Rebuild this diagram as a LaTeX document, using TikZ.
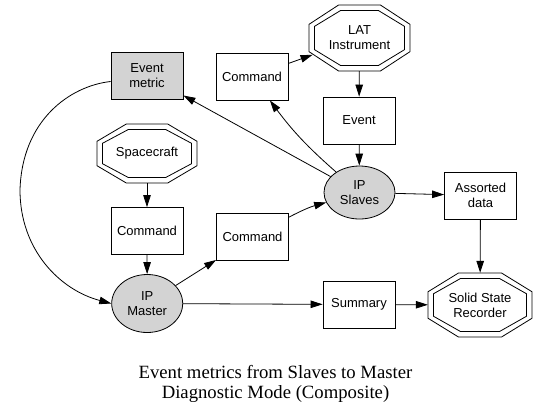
\documentclass[tikz,border=0pt]{standalone}
\usepackage{fontspec}
\setmainfont{Liberation Sans}
\newfontfamily\capfont{Liberation Serif}
\usetikzlibrary{arrows.meta,shapes.geometric,calc}
\definecolor{lgray}{RGB}{211,211,211}
\newcommand\ndfont{\fontsize{13}{15}\selectfont}
\newcommand\dblocta[3]{%
  \draw[octline,shift={(#1.center)}] (#2,0.414*#3)--(0.414*#2,#3)--(-0.414*#2,#3)--(-#2,0.414*#3)--(-#2,-0.414*#3)--(-0.414*#2,-#3)--(0.414*#2,-#3)--(#2,-0.414*#3)--cycle;
  \draw[octline,shift={(#1.center)}] (#2-5.5,0.414*#3-2)--(0.414*#2-2,#3-5.5)--(-0.414*#2+2,#3-5.5)--(-#2+5.5,0.414*#3-2)--(-#2+5.5,-0.414*#3+2)--(-0.414*#2+2,-#3+5.5)--(0.414*#2-2,-#3+5.5)--(#2-5.5,-0.414*#3+2)--cycle;}
\tikzset{
  box/.style={draw, line width=0.8pt, minimum width=72pt, minimum height=47pt, inner sep=0pt, align=center, font=\ndfont},
  oval/.style={ellipse, draw, fill=lgray, line width=0.8pt, inner sep=0pt, align=center, font=\ndfont},
  octnode/.style={draw=none, inner sep=0pt, align=center, font=\ndfont},
  octline/.style={line width=0.8pt},
  edge/.style={line width=0.8pt, -{Triangle[length=12pt,width=7.5pt]}}
}
\begin{document}
\begin{tikzpicture}[x=1pt,y=-1pt]
\useasboundingbox[fill=white] (0,0) rectangle (551,416);
% nodes
\node[box,fill=lgray] (em) at (147,75.5) {Event\\metric};
\node[box] (cmdt) at (252,76.5) {Command};
\node[octnode,minimum width=101pt,minimum height=66pt] (lat) at (359.5,38) {LAT\\Instrument};
\dblocta{lat}{50.5}{33}
\node[box] (ev) at (359,120.5) {Event};
\node[oval,minimum width=71pt,minimum height=53pt] (ips) at (359.5,192.5) {IP\\Slaves};
\node[box] (ad) at (480.5,195.5) {Assorted\\data};
\node[octnode,minimum width=104pt,minimum height=64pt] (ssr) at (480,305) {Solid State\\Recorder};
\dblocta{ssr}{52}{32}
\node[box] (sum) at (359,304.5) {Summary};
\node[octnode,minimum width=100pt,minimum height=59pt] (sc) at (147,153.5) {Spacecraft};
\dblocta{sc}{50}{29.5}
\node[box] (cmdl) at (147,231) {Command};
\node[box] (cmdm) at (252.5,237) {Command};
\node[oval,minimum width=71pt,minimum height=58pt] (ipm) at (147.2,303.5) {IP\\Master};
% caption
\node[font=\capfont\fontsize{18.7}{20}\selectfont, align=center, inner sep=0pt] (cap) at (275.5,384) {Event metrics from Slaves to Master\\Diagnostic Mode (Composite)};
% edges
\draw[edge] ($(em.west)+(0,6)$) .. controls (70,86) and (22,120) .. (20,190) .. controls (20,250) and (60,290) .. (ipm.west);
\draw[edge] (ips) -- (em);
\draw[edge] (ips) to[bend left=6] (cmdt);
\draw[edge,shorten >=-4pt] (cmdt) -- (lat);
\draw[edge] (lat) -- (ev);
\draw[edge] (ev) -- (ips);
\draw[edge] (ips) -- (ad);
\draw[edge] (ad) -- (ssr);
\draw[edge] (sum) -- (ssr);
\draw[edge] (ipm) -- (sum);
\draw[edge] (sc) -- (cmdl);
\draw[edge] (cmdl) -- (ipm);
\draw[edge] (ipm) -- (cmdm);
\draw[edge] (cmdm) to[bend left=6] (ips);
\end{tikzpicture}
\end{document}
